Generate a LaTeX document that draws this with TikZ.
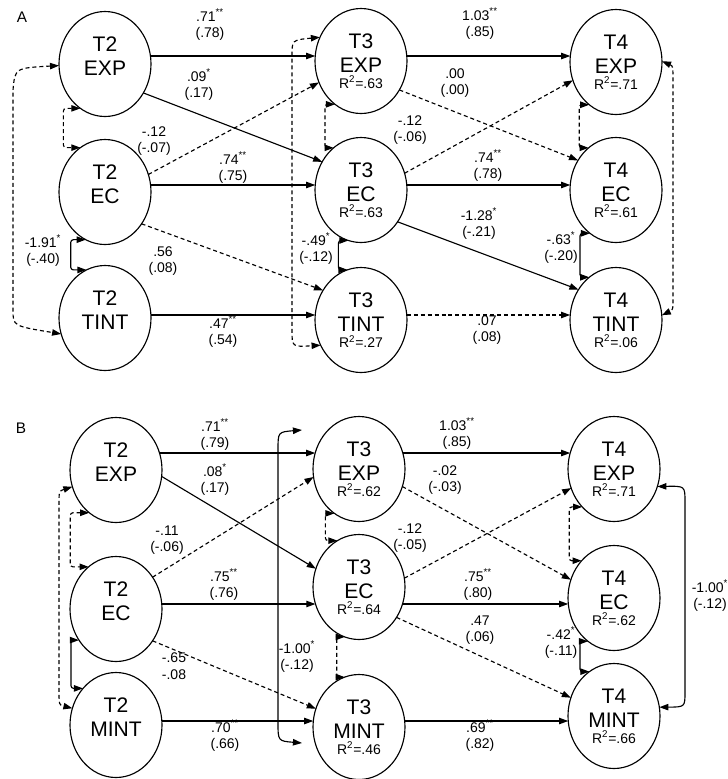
\documentclass[tikz,border=0pt]{standalone}
\usepackage{fontspec}
\setmainfont{Liberation Sans}
\usetikzlibrary{arrows.meta,shapes.geometric}
\newcommand{\rs}[1]{{\fontsize{10.5}{12}\selectfont #1}}
\newcommand{\sg}[1]{\textsuperscript{#1}}
\begin{document}
\begin{tikzpicture}[x=0.75pt,y=-0.75pt,
  lat/.style={ellipse,draw,line width=0.85pt,minimum width=69pt,minimum height=78.75pt,inner sep=0pt,outer sep=0pt,align=center,font=\fontsize{15.8}{18}\selectfont},
  reg/.style={line width=0.85pt,-{Triangle[length=6.8pt,width=4.8pt]}},
  dreg/.style={reg,dash pattern=on 3pt off 2.2pt},
  cov/.style={line width=0.85pt,{Triangle[length=6.8pt,width=4.8pt]}-{Triangle[length=6.8pt,width=4.8pt]},rounded corners=2pt},
  dcov/.style={cov,dash pattern=on 3pt off 2.2pt},
  lab/.style={align=center,inner sep=0pt,font=\fontsize{10.5}{12.5}\selectfont},
  ptitle/.style={inner sep=0pt,font=\fontsize{11.5}{13}\selectfont}
]
\useasboundingbox (0,0) rectangle (728,779);

% ---------------- Panel A ----------------
\node[ptitle] (pA) at (22,17) {A};
\node[lat] (a2exp) at (105,64) {T2\\EXP\\[-6pt]\rs{\phantom{R}}};
\node[lat] (a2ec) at (105,192) {T2\\EC\\[-6pt]\rs{\phantom{R}}};
\node[lat] (a2tint) at (105,318) {T2\\TINT\\[-6pt]\rs{\phantom{R}}};
\node[lat] (a3exp) at (361,61) {T3\\EXP\\[-6pt]\rs{R\sg{2}=.63}};
\node[lat] (a3ec) at (361,190) {T3\\EC\\[-6pt]\rs{R\sg{2}=.63}};
\node[lat] (a3tint) at (361,320) {T3\\TINT\\[-6pt]\rs{R\sg{2}=.27}};
\node[lat] (a4exp) at (616,62) {T4\\EXP\\[-6pt]\rs{R\sg{2}=.71}};
\node[lat] (a4ec) at (616,190) {T4\\EC\\[-6pt]\rs{R\sg{2}=.61}};
\node[lat] (a4tint) at (616,320) {T4\\TINT\\[-6pt]\rs{R\sg{2}=.06}};

\coordinate (yA1) at (0,56);
\coordinate (yA2) at (0,185);
\coordinate (yA3) at (0,315);

\draw[reg] (a2exp.10 |- yA1) -- (a3exp.174 |- yA1);
\draw[reg] (a3exp.6 |- yA1) -- (a4exp.173 |- yA1);
\draw[reg] (a2ec.9 |- yA2) -- (a3ec.174 |- yA2);
\draw[reg] (a3ec.6 |- yA2) -- (a4ec.174 |- yA2);
\draw[reg] (a2tint.4 |- yA3) -- (a3tint.174 |- yA3);
\draw[dreg] (a3tint.5 |- yA3) -- (a4tint.175 |- yA3);

\draw[reg] (a2exp.323) -- (a3ec.144);
\draw[dreg] (a2ec.22) -- (a3exp.207);
\draw[dreg] (a2ec.319) -- (a3tint.142);
\draw[dreg] (a3exp.323) -- (a4ec.142);
\draw[dreg] (a3ec.21) -- (a4exp.203);
\draw[reg] (a3ec.319) -- (a4tint.141);

\draw[dcov] (a2exp.241) -- ++(-17,0) |- (a2ec.119);
\draw[cov] (a2ec.248) -- ++(-15,0) |- (a2tint.111);
\draw[dcov] (a3exp.239) -- ++(-10,0) |- (a3ec.123);
\draw[cov] (a3ec.256) -- ++(-10,0) |- (a3tint.105);
\draw[dcov] (a4exp.238) -- ++(-10,0) |- (a4ec.123);
\draw[cov] (a4ec.239) -- ++(-10,0) |- (a4tint.122);

\draw[dcov,sharp corners] (a2exp.182) .. controls (15,68) .. (13,90) -- (13,310) .. controls (13,326) .. (a2tint.200);
\draw[dcov,sharp corners] (a3exp.150) .. controls (292,40) .. (292,56) -- (292,330) .. controls (292,347) .. (a3tint.212);
\draw[dcov,sharp corners] (a4exp.1) .. controls (673,66) .. (673,82) -- (673,296) .. controls (673,310) .. (a4tint.6);

\node[lab] (la1) at (210,25) {.71\sg{**}\\(.78)};
\node[lab] (la2) at (199,85) {.09\sg{*}\\(.17)};
\node[lab] (la3) at (154,141) {-.12\\(-.07)};
\node[lab] (la4) at (233,168) {.74\sg{**}\\(.75)};
\node[lab] (la5) at (163,261) {.56\\(.08)};
\node[lab] (la6) at (223,332) {.47\sg{**}\\(.54)};
\node[lab] (la7) at (43,251) {-1.91\sg{*}\\(-.40)};
\node[lab] (la8) at (316,249) {-.49\sg{*}\\(-.12)};
\node[lab] (la9) at (480,24) {1.03\sg{**}\\(.85)};
\node[lab] (la10) at (455,83) {.00\\(.00)};
\node[lab] (la11) at (410,130) {-.12\\(-.06)};
\node[lab] (la12) at (488,166) {.74\sg{**}\\(.78)};
\node[lab] (la13) at (479,224) {-1.28\sg{*}\\(-.21)};
\node[lab] (la14) at (487,330) {.07\\(.08)};
\node[lab] (la15) at (561,248) {-.63\sg{*}\\(-.20)};

% ---------------- Panel B ----------------
\node[ptitle] (pB) at (21,428) {B};
\node[lat] (b2exp) at (116,470) {T2\\EXP\\[-6pt]\rs{\phantom{R}}};
\node[lat] (b2ec) at (116,609) {T2\\EC\\[-6pt]\rs{\phantom{R}}};
\node[lat] (b2mint) at (116,725) {T2\\MINT\\[-6pt]\rs{\phantom{R}}};
\node[lat] (b3exp) at (359,469) {T3\\EXP\\[-6pt]\rs{R\sg{2}=.62}};
\node[lat] (b3ec) at (359,587) {T3\\EC\\[-6pt]\rs{R\sg{2}=.64}};
\node[lat] (b3mint) at (359,727) {T3\\MINT\\[-6pt]\rs{R\sg{2}=.46}};
\node[lat] (b4exp) at (614,469) {T4\\EXP\\[-6pt]\rs{R\sg{2}=.71}};
\node[lat] (b4ec) at (614,598) {T4\\EC\\[-6pt]\rs{R\sg{2}=.62}};
\node[lat] (b4mint) at (614,716) {T4\\MINT\\[-6pt]\rs{R\sg{2}=.66}};

\coordinate (yB1) at (0,453);
\coordinate (yB2) at (0,604);
\coordinate (yB3) at (0,721);

\draw[reg] (b2exp.21 |- yB1) -- (b3exp.160 |- yB1);
\draw[reg] (b3exp.20 |- yB1) -- (b4exp.160 |- yB1);
\draw[reg] (b2ec.6 |- yB2) -- (b3ec.201 |- yB2);
\draw[reg] (b3ec.339 |- yB2) -- (b4ec.186 |- yB2);
\draw[reg] (b2mint.5 |- yB3) -- (b3mint.173 |- yB3);
\draw[reg] (b3mint.7 |- yB3) -- (b4mint.186 |- yB3);

\draw[reg] (b2exp.352) -- (b3ec.157);
\draw[dreg] (b2ec.41) -- (b3exp.190);
\draw[dreg] (b2ec.319) -- (b3mint.157);
\draw[dreg] (b3exp.338) -- (b4ec.157);
\draw[dreg] (b3ec.11) -- (b4exp.204);
\draw[dreg] (b3ec.321) -- (b4mint.157);

\draw[dcov] (b2exp.238) -- ++(-19,0) |- (b2ec.123);
\draw[cov] (b2ec.220) -- ++(-8,0) |- (b2mint.132);
\draw[dcov] (b3exp.241) -- ++(-9,0) |- (b3ec.115);
\draw[dcov] (b3ec.254) -- ++(-8,0) |- (b3mint.106);
\draw[dcov] (b4exp.230) -- ++(-13,0) |- (b4ec.131);
\draw[cov] (b4ec.239) -- ++(-8,0) |- (b4mint.119);

\coordinate (b3top) at (302,430);
\coordinate (b3bot) at (302,743);
\draw[dcov,sharp corners] (b2exp.201) .. controls (59,491) .. (59,505) -- (59,690) .. controls (59,705) .. (b2mint.159);
\draw[cov,sharp corners] (b3top) .. controls (278,432) .. (278,450) -- (278,722) .. controls (278,741) .. (b3bot);
\draw[cov,sharp corners] (b4exp.338) .. controls (685,486) .. (685,502) -- (685,692) .. controls (685,707) .. (b4mint.11);

\node[lab] (lb1) at (215,435) {.71\sg{**}\\(.79)};
\node[lab] (lb2) at (215,480) {.08\sg{*}\\(.17)};
\node[lab] (lb3) at (167,540) {-.11\\(-.06)};
\node[lab] (lb4) at (224,585) {.75\sg{**}\\(.76)};
\node[lab] (lb5) at (174,666) {-.65\\-.08};
\node[lab] (lb6) at (225,736) {.70\sg{**}\\(.66)};
\node[lab] (lb7) at (297,657) {-1.00\sg{*}\\(-.12)};
\node[lab] (lb8) at (457,434) {1.03\sg{**}\\(.85)};
\node[lab] (lb9) at (445,480) {-.02\\(-.03)};
\node[lab] (lb10) at (410,538) {-.12\\(-.05)};
\node[lab] (lb11) at (478,585) {.75\sg{**}\\(.80)};
\node[lab] (lb12) at (480,630) {.47\\(.06)};
\node[lab] (lb13) at (480,736) {.69\sg{**}\\(.82)};
\node[lab] (lb14) at (561,643) {-.42\sg{*}\\(-.11)};
\node[lab] (lb15) at (710,596) {-1.00\sg{*}\\(-.12)};
\end{tikzpicture}
\end{document}
